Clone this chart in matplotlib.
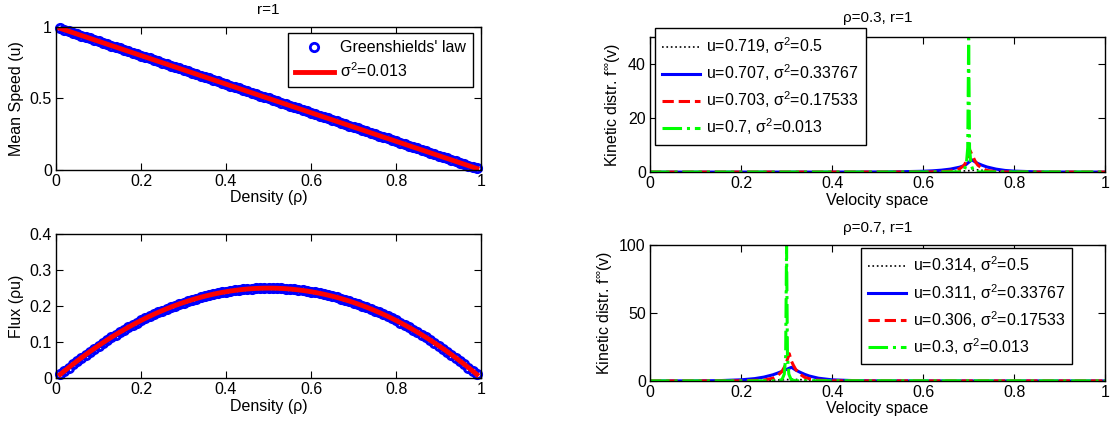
import matplotlib
matplotlib.use("Agg")
import matplotlib.pyplot as plt

plt.rcParams['font.family'] = ['Liberation Sans', 'DejaVu Sans']
plt.rcParams['mathtext.fontset'] = 'custom'
plt.rcParams['mathtext.rm'] = 'Liberation Sans'
plt.rcParams['mathtext.it'] = 'Liberation Sans:italic'
plt.rcParams['font.size'] = 11.5

# Greenshields' law samples
rho = [0.01, 0.02, 0.03, 0.04, 0.05, 0.06, 0.07, 0.08, 0.09, 0.10,
       0.11, 0.12, 0.13, 0.14, 0.15, 0.16, 0.17, 0.18, 0.19, 0.20,
       0.21, 0.22, 0.23, 0.24, 0.25, 0.26, 0.27, 0.28, 0.29, 0.30,
       0.31, 0.32, 0.33, 0.34, 0.35, 0.36, 0.37, 0.38, 0.39, 0.40,
       0.41, 0.42, 0.43, 0.44, 0.45, 0.46, 0.47, 0.48, 0.49, 0.50,
       0.51, 0.52, 0.53, 0.54, 0.55, 0.56, 0.57, 0.58, 0.59, 0.60,
       0.61, 0.62, 0.63, 0.64, 0.65, 0.66, 0.67, 0.68, 0.69, 0.70,
       0.71, 0.72, 0.73, 0.74, 0.75, 0.76, 0.77, 0.78, 0.79, 0.80,
       0.81, 0.82, 0.83, 0.84, 0.85, 0.86, 0.87, 0.88, 0.89, 0.90,
       0.91, 0.92, 0.93, 0.94, 0.95, 0.96, 0.97, 0.98, 0.99]
speed = [0.99, 0.98, 0.97, 0.96, 0.95, 0.94, 0.93, 0.92, 0.91, 0.90,
         0.89, 0.88, 0.87, 0.86, 0.85, 0.84, 0.83, 0.82, 0.81, 0.80,
         0.79, 0.78, 0.77, 0.76, 0.75, 0.74, 0.73, 0.72, 0.71, 0.70,
         0.69, 0.68, 0.67, 0.66, 0.65, 0.64, 0.63, 0.62, 0.61, 0.60,
         0.59, 0.58, 0.57, 0.56, 0.55, 0.54, 0.53, 0.52, 0.51, 0.50,
         0.49, 0.48, 0.47, 0.46, 0.45, 0.44, 0.43, 0.42, 0.41, 0.40,
         0.39, 0.38, 0.37, 0.36, 0.35, 0.34, 0.33, 0.32, 0.31, 0.30,
         0.29, 0.28, 0.27, 0.26, 0.25, 0.24, 0.23, 0.22, 0.21, 0.20,
         0.19, 0.18, 0.17, 0.16, 0.15, 0.14, 0.13, 0.12, 0.11, 0.10,
         0.09, 0.08, 0.07, 0.06, 0.05, 0.04, 0.03, 0.02, 0.01]
flux = [0.0099, 0.0196, 0.0291, 0.0384, 0.0475, 0.0564, 0.0651, 0.0736, 0.0819, 0.0900,
        0.0979, 0.1056, 0.1131, 0.1204, 0.1275, 0.1344, 0.1411, 0.1476, 0.1539, 0.1600,
        0.1659, 0.1716, 0.1771, 0.1824, 0.1875, 0.1924, 0.1971, 0.2016, 0.2059, 0.2100,
        0.2139, 0.2176, 0.2211, 0.2244, 0.2275, 0.2304, 0.2331, 0.2356, 0.2379, 0.2400,
        0.2419, 0.2436, 0.2451, 0.2464, 0.2475, 0.2484, 0.2491, 0.2496, 0.2499, 0.2500,
        0.2499, 0.2496, 0.2491, 0.2484, 0.2475, 0.2464, 0.2451, 0.2436, 0.2419, 0.2400,
        0.2379, 0.2356, 0.2331, 0.2304, 0.2275, 0.2244, 0.2211, 0.2176, 0.2139, 0.2100,
        0.2059, 0.2016, 0.1971, 0.1924, 0.1875, 0.1824, 0.1771, 0.1716, 0.1659, 0.1600,
        0.1539, 0.1476, 0.1411, 0.1344, 0.1275, 0.1204, 0.1131, 0.1056, 0.0979, 0.0900,
        0.0819, 0.0736, 0.0651, 0.0564, 0.0475, 0.0384, 0.0291, 0.0196, 0.0099]

# kinetic distributions, rho = 0.3
top_black_v = [0, 0.2, 0.4, 0.6, 0.66, 0.7, 0.719, 0.74, 0.78, 0.85, 1.0]
top_black_f = [0, 0, 0, 0.05, 0.2, 0.5, 0.8, 0.5, 0.2, 0.05, 0]
top_blue_v = [0, 0.2, 0.4, 0.5, 0.55, 0.6, 0.62, 0.64, 0.66, 0.68, 0.69, 0.695,
              0.7, 0.707, 0.71, 0.715, 0.72, 0.73, 0.74, 0.76, 0.78, 0.8, 0.85, 0.9, 1.0]
top_blue_f = [0, 0, 0.01, 0.05, 0.12, 0.3, 0.45, 0.7, 1.1, 1.8, 2.4, 2.9,
              3.6, 4.5, 4.2, 3.7, 3.2, 2.5, 1.9, 1.1, 0.6, 0.35, 0.08, 0.02, 0]
top_red_v = [0, 0.3, 0.6, 0.62, 0.64, 0.66, 0.68, 0.69, 0.695, 0.7, 0.703,
             0.71, 0.715, 0.72, 0.73, 0.74, 0.76, 0.78, 0.8, 1.0]
top_red_f = [0, 0, 0.02, 0.05, 0.12, 0.35, 1.2, 2.5, 4.0, 6.5, 8.0,
             5.5, 3.8, 2.6, 1.3, 0.6, 0.15, 0.04, 0.01, 0]
top_green_v = [0, 0.5, 0.68, 0.69, 0.695, 0.698, 0.7, 0.702, 0.705, 0.71, 0.72, 1.0]
top_green_f = [0, 0, 0.05, 0.5, 3.0, 9.0, 49.5, 9.0, 3.0, 0.5, 0.05, 0]

# kinetic distributions, rho = 0.7
bot_black_v = [0, 0.2, 0.25, 0.29, 0.314, 0.34, 0.38, 0.45, 0.6, 1.0]
bot_black_f = [0, 0.05, 0.3, 0.8, 1.2, 0.8, 0.3, 0.05, 0, 0]
bot_blue_v = [0, 0.1, 0.15, 0.2, 0.23, 0.25, 0.27, 0.28, 0.29, 0.3, 0.311,
              0.32, 0.33, 0.34, 0.35, 0.37, 0.4, 0.45, 0.5, 0.6, 1.0]
bot_blue_f = [0, 0.05, 0.2, 0.8, 1.7, 2.8, 4.5, 5.7, 7.0, 8.5, 10.0,
              8.0, 6.3, 4.8, 3.6, 2.0, 0.8, 0.2, 0.05, 0, 0]
bot_red_v = [0, 0.15, 0.2, 0.25, 0.27, 0.28, 0.29, 0.295, 0.3, 0.306,
             0.31, 0.315, 0.32, 0.33, 0.34, 0.36, 0.4, 0.5, 1.0]
bot_red_f = [0, 0, 0.05, 0.6, 2.0, 3.8, 7.0, 10.0, 14.0, 20.0,
             15.0, 11.5, 8.5, 4.8, 2.6, 0.7, 0.05, 0, 0]
bot_green_v = [0, 0.2, 0.28, 0.29, 0.295, 0.298, 0.3, 0.302, 0.305, 0.31, 0.32, 1.0]
bot_green_f = [0, 0, 0.1, 1.0, 5.0, 18.0, 99.0, 18.0, 5.0, 1.0, 0.1, 0]

top_labels = ['u=0.719, σ$^2$=0.5', 'u=0.707, σ$^2$=0.33767',
              'u=0.703, σ$^2$=0.17533', 'u=0.7, σ$^2$=0.013']
bot_labels = ['u=0.314, σ$^2$=0.5', 'u=0.311, σ$^2$=0.33767',
              'u=0.306, σ$^2$=0.17533', 'u=0.3, σ$^2$=0.013']

GREEN = (0, 1, 0)
XTICKS = [0, 0.2, 0.4, 0.6, 0.8, 1]
XTICKLABELS = ['0', '0.2', '0.4', '0.6', '0.8', '1']


def matlab_axes(ax):
    ax.tick_params(direction='in', top=True, right=True, length=5, width=0.8,
                   labelsize=11.5, pad=3)
    for s in ax.spines.values():
        s.set_linewidth(1.0)


def legend(ax, **kw):
    leg = ax.legend(fancybox=False, framealpha=1, edgecolor='black',
                    fontsize=11.5, handlelength=2.4, labelspacing=0.4,
                    handletextpad=0.4, borderaxespad=0, borderpad=0.45, **kw)
    leg.get_frame().set_linewidth(1.0)
    return leg


fig = plt.figure(figsize=(11.13, 4.28), dpi=100)

# top left: mean speed
ax1 = fig.add_axes([0.0503, 0.603, 0.382, 0.334])
ax1.plot(rho, speed, 'o', color='blue', mfc='none', ms=6, mew=2,
         label="Greenshields' law", clip_on=False)
ax1.plot(rho, speed, '-', color='red', lw=3.5, label='σ$^2$=0.013')
ax1.set_xlim(0, 1)
ax1.set_ylim(0, 1)
ax1.set_xticks(XTICKS)
ax1.set_xticklabels(XTICKLABELS)
ax1.set_yticks([0, 0.5, 1])
ax1.set_yticklabels(['0', '0.5', '1'])
ax1.set_xlabel('Density (ρ)', labelpad=1)
ax1.set_ylabel('Mean Speed (u)')
ax1.set_title('r=1', fontsize=11, pad=9)
matlab_axes(ax1)
legend(ax1, loc='upper right', bbox_to_anchor=(0.981, 0.958))

# bottom left: flux
ax2 = fig.add_axes([0.0503, 0.1168, 0.382, 0.336])
ax2.plot(rho, flux, 'o', color='blue', mfc='none', ms=6, mew=2, clip_on=False)
ax2.plot(rho, flux, '-', color='red', lw=3.5)
ax2.set_xlim(0, 1)
ax2.set_ylim(0, 0.4)
ax2.set_xticks(XTICKS)
ax2.set_xticklabels(XTICKLABELS)
ax2.set_yticks([0, 0.1, 0.2, 0.3, 0.4])
ax2.set_yticklabels(['0', '0.1', '0.2', '0.3', '0.4'])
ax2.set_xlabel('Density (ρ)', labelpad=1)
ax2.set_ylabel('Flux (ρu)')
matlab_axes(ax2)


def kinetic(ax, curves, labels, ymax, yticks, title, title_pad):
    (bv, bf), (uv, uf), (rv, rf), (gv, gf) = curves
    ax.plot(bv, bf, ':', color='black', lw=1.2, label=labels[0])
    ax.plot(uv, uf, '-', color='blue', lw=2.2, label=labels[1])
    ax.plot(rv, rf, '--', color='red', lw=2.2, label=labels[2])
    ax.plot(gv, gf, '-.', color=GREEN, lw=2.2, label=labels[3])
    ax.set_xlim(0, 1)
    ax.set_ylim(0, ymax)
    ax.set_xticks(XTICKS)
    ax.set_xticklabels(XTICKLABELS)
    ax.set_yticks(yticks)
    ax.set_yticklabels([str(t) for t in yticks])
    ax.set_xlabel('Velocity space', labelpad=1)
    ax.set_ylabel('Kinetic distr. f$^{\\infty}$(v)')
    ax.set_title(title, fontsize=11, pad=title_pad)
    matlab_axes(ax)


ax3 = fig.add_axes([0.584, 0.598, 0.409, 0.315])
kinetic(ax3, [(top_black_v, top_black_f), (top_blue_v, top_blue_f),
              (top_red_v, top_red_f), (top_green_v, top_green_f)],
        top_labels, 50, [0, 20, 40], 'ρ=0.3, r=1', 11)
legend(ax3, loc='upper left', bbox_to_anchor=(0.01, 1.067))

ax4 = fig.add_axes([0.584, 0.110, 0.409, 0.318])
kinetic(ax4, [(bot_black_v, bot_black_f), (bot_blue_v, bot_blue_f),
              (bot_red_v, bot_red_f), (bot_green_v, bot_green_f)],
        bot_labels, 100, [0, 50, 100], 'ρ=0.7, r=1', 9)
legend(ax4, loc='upper right', bbox_to_anchor=(0.927, 0.98))

fig.savefig('out.png', dpi=100)
